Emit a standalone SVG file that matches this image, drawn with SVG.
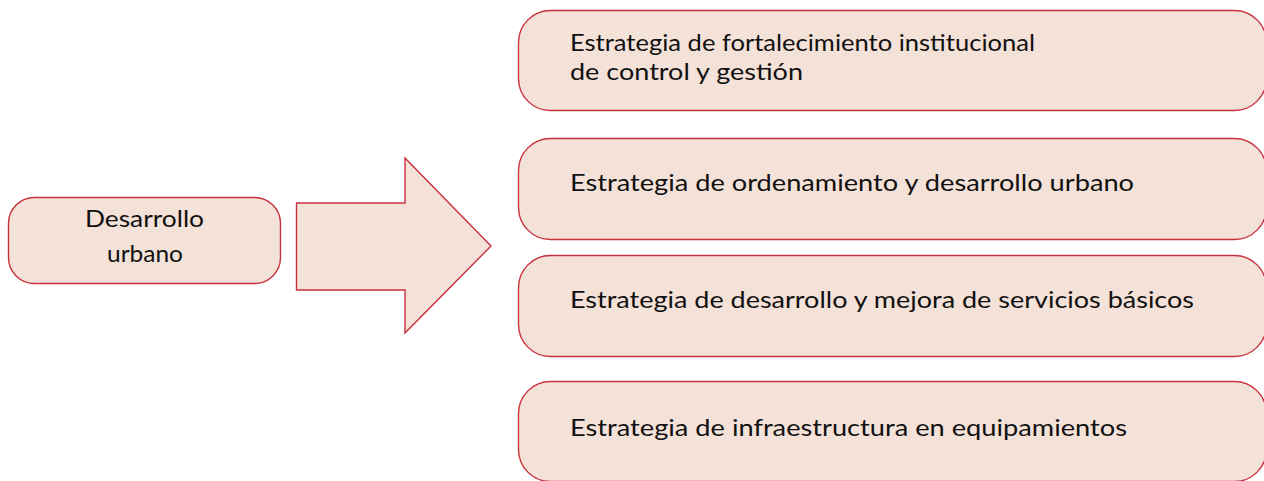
<svg xmlns="http://www.w3.org/2000/svg" width="1264" height="481" viewBox="0 0 1264 481">
<style>
.box{fill:#F4E1D8;stroke:#C8323C;stroke-width:1.4}
.t{font-family:Lato,"Open Sans",sans-serif;font-size:23.5px;fill:#111}
</style>
<rect width="1264" height="481" fill="#fff"/>
<g id="source">
<rect class="box" x="8.5" y="197.5" width="272" height="86" rx="26"/>
<text class="t" x="144.5" y="227" text-anchor="middle" textLength="119" lengthAdjust="spacingAndGlyphs">Desarrollo</text>
<text class="t" x="145" y="262" text-anchor="middle" textLength="76" lengthAdjust="spacingAndGlyphs">urbano</text>
</g>
<g id="connectors">
<polygon class="box" points="296.5,203 405,203 405,158 491,246 405,333 405,290 296.5,290"/>
</g>
<g id="s1">
<rect class="box" x="518.5" y="10.5" width="748" height="100" rx="32"/>
<text class="t" x="570" y="51" textLength="465" lengthAdjust="spacingAndGlyphs">Estrategia de fortalecimiento institucional</text>
<text class="t" x="570" y="80" textLength="233" lengthAdjust="spacingAndGlyphs">de control y gestión</text>
</g>
<g id="s2">
<rect class="box" x="518.5" y="138.5" width="748" height="101" rx="32"/>
<text class="t" x="570" y="191" textLength="564" lengthAdjust="spacingAndGlyphs">Estrategia de ordenamiento y desarrollo urbano</text>
</g>
<g id="s3">
<rect class="box" x="518.5" y="255.5" width="748" height="101" rx="32"/>
<text class="t" x="570" y="308" textLength="624" lengthAdjust="spacingAndGlyphs">Estrategia de desarrollo y mejora de servicios básicos</text>
</g>
<g id="s4">
<rect class="box" x="518.5" y="381.5" width="748" height="100" rx="32"/>
<text class="t" x="570" y="436" textLength="557" lengthAdjust="spacingAndGlyphs">Estrategia de infraestructura en equipamientos</text>
</g>
</svg>
